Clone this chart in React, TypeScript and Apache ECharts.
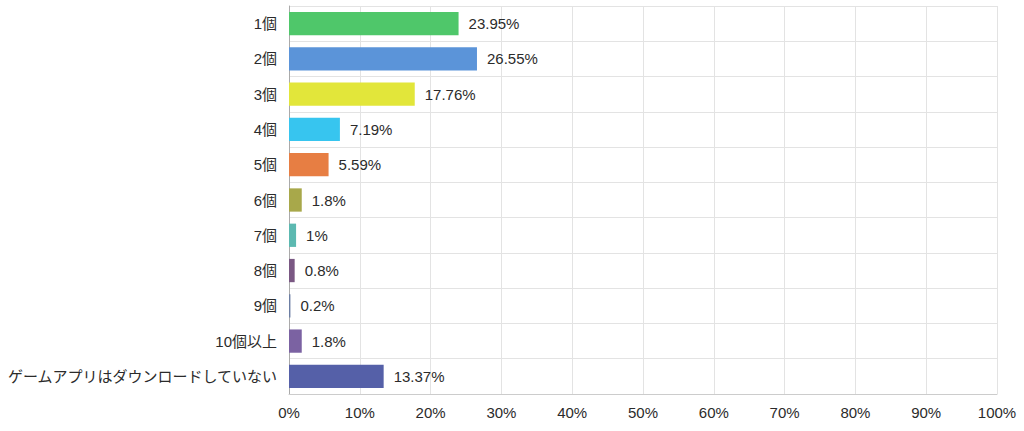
import React, { useEffect, useRef } from "react";
import * as echarts from "echarts";

const categories = [
  "1個",
  "2個",
  "3個",
  "4個",
  "5個",
  "6個",
  "7個",
  "8個",
  "9個",
  "10個以上",
  "ゲームアプリはダウンロードしていない",
];
const values = [23.95, 26.55, 17.76, 7.19, 5.59, 1.8, 1, 0.8, 0.2, 1.8, 13.37];
const colors = [
  "#4fc76a",
  "#5b94d9",
  "#e2e63a",
  "#37c5ef",
  "#e77e43",
  "#a8a84a",
  "#5cb9b1",
  "#7a5883",
  "#6c7ea3",
  "#7b62a2",
  "#5560a8",
];
const xTicks = [0, 10, 20, 30, 40, 50, 60, 70, 80, 90, 100];

export default function App() {
  const ref = useRef<HTMLDivElement>(null);
  useEffect(() => {
    if (!ref.current) return;
    const chart = echarts.init(ref.current, undefined, { renderer: "svg" });
    chart.setOption({
      animation: false,
      textStyle: { fontFamily: "Liberation Sans, Arial, 'Noto Sans CJK JP', sans-serif" },
      grid: { left: 289, right: 27, top: 6, bottom: 37, containLabel: false },
      xAxis: {
        type: "value",
        min: xTicks[0],
        max: xTicks[xTicks.length - 1],
        interval: 10,
        axisLine: { show: true, lineStyle: { color: "#cccccc" } },
        axisTick: { show: false },
        axisLabel: {
          color: "#2b2b2b",
          fontSize: 15,
          margin: 11,
          formatter: (v: number) => `${v}%`,
        },
        splitLine: { show: true, lineStyle: { color: "#e3e3e3" } },
      },
      yAxis: {
        type: "category",
        data: categories,
        inverse: true,
        axisLine: { show: true, lineStyle: { color: "#aaaaaa" } },
        axisTick: { show: false },
        axisLabel: { color: "#2b2b2b", fontSize: 15, margin: 12 },
        splitLine: { show: true, lineStyle: { color: "#e3e3e3" } },
      },
      series: [
        {
          type: "bar",
          data: values.map((v, i) => ({ value: v, itemStyle: { color: colors[i] } })),
          barWidth: "66%",
          label: {
            show: true,
            position: "right",
            distance: 10,
            color: "#2b2b2b",
            fontSize: 15,
            formatter: (p: any) => `${p.value}%`,
          },
        },
      ],
    });
    return () => chart.dispose();
  }, []);
  return (
    <div
      ref={ref}
      style={{ position: "absolute", left: 0, top: 0, width: 1024, height: 431, background: "#fff" }}
    />
  );
}
